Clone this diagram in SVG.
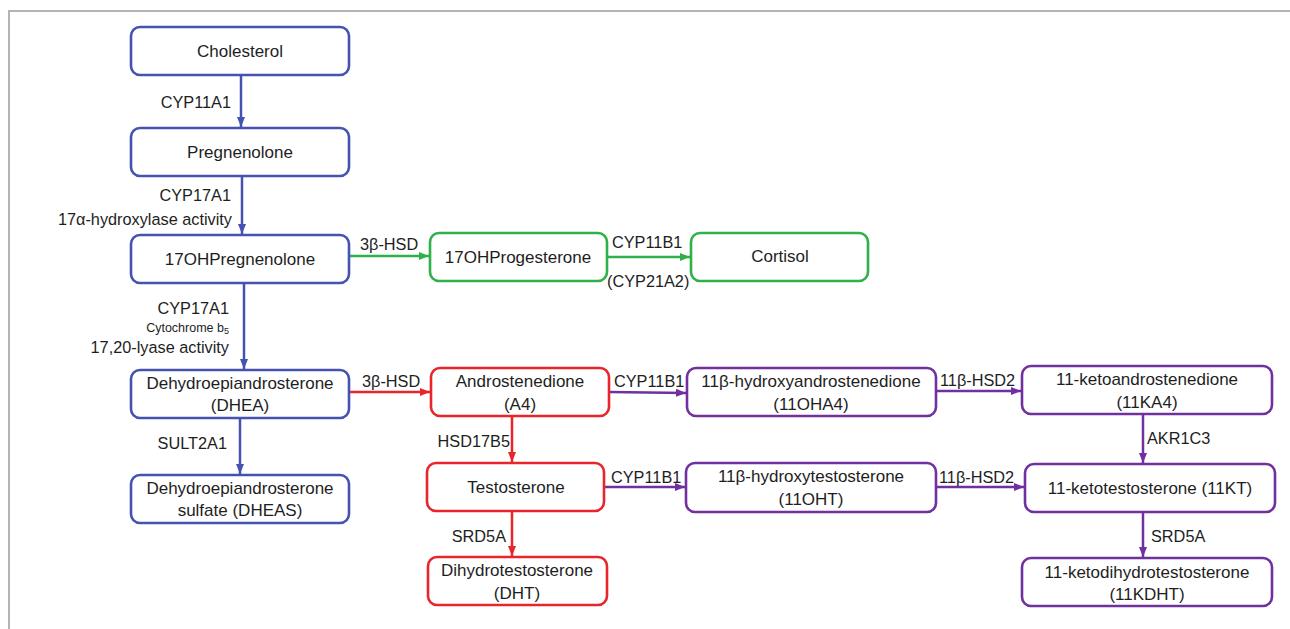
<svg xmlns="http://www.w3.org/2000/svg" width="1290" height="629" viewBox="0 0 1290 629">
<style>
text{font-family:"Liberation Sans",Arial,sans-serif;fill:#1e1e1e}
.n{font-size:17px;text-anchor:middle;dominant-baseline:central}
.l{font-size:16.3px;dominant-baseline:central}
.e{text-anchor:end}
.s{font-size:12.5px}
rect{fill:#fff;stroke-width:2.6}
.bl rect{stroke:#4452b0}.gr rect{stroke:#2fb04a}.rd rect{stroke:#e8252b}.pu rect{stroke:#7030a0}
.c{fill:none;stroke-width:2.5}
</style>
<defs>
<marker id="ab" markerUnits="userSpaceOnUse" markerWidth="10" markerHeight="10" viewBox="0 0 10 10" refX="10" refY="5" orient="auto"><path d="M0,1 L10,5 L0,9 z" fill="#4452b0"/></marker>
<marker id="ag" markerUnits="userSpaceOnUse" markerWidth="10" markerHeight="10" viewBox="0 0 10 10" refX="10" refY="5" orient="auto"><path d="M0,1 L10,5 L0,9 z" fill="#2fb04a"/></marker>
<marker id="ar" markerUnits="userSpaceOnUse" markerWidth="10" markerHeight="10" viewBox="0 0 10 10" refX="10" refY="5" orient="auto"><path d="M0,1 L10,5 L0,9 z" fill="#e8252b"/></marker>
<marker id="ap" markerUnits="userSpaceOnUse" markerWidth="10" markerHeight="10" viewBox="0 0 10 10" refX="10" refY="5" orient="auto"><path d="M0,1 L10,5 L0,9 z" fill="#7030a0"/></marker>
</defs>
<rect x="0" y="0" width="1290" height="629" style="fill:#fff;stroke:none"/>
<path d="M9,629 V11 H1290" fill="none" stroke="#b4b4b4" stroke-width="2"/>

<g id="connectors">
<path class="c" stroke="#4452b0" marker-end="url(#ab)" d="M241,75 V127"/>
<path class="c" stroke="#4452b0" marker-end="url(#ab)" d="M242,176 V234"/>
<path class="c" stroke="#4452b0" marker-end="url(#ab)" d="M244,283 V369"/>
<path class="c" stroke="#4452b0" marker-end="url(#ab)" d="M240,418 V474"/>
<path class="c" stroke="#2fb04a" marker-end="url(#ag)" d="M349,256 H429"/>
<path class="c" stroke="#2fb04a" marker-end="url(#ag)" d="M607,257 H690"/>
<path class="c" stroke="#e8252b" marker-end="url(#ar)" d="M349,392 H430"/>
<path class="c" stroke="#e8252b" marker-end="url(#ar)" d="M512,416 V462"/>
<path class="c" stroke="#e8252b" marker-end="url(#ar)" d="M512,511 V556"/>
<path class="c" stroke="#7030a0" marker-end="url(#ap)" d="M609,392 L686,393"/>
<path class="c" stroke="#7030a0" marker-end="url(#ap)" d="M936,391 H1021"/>
<path class="c" stroke="#7030a0" marker-end="url(#ap)" d="M1143,414 V463"/>
<path class="c" stroke="#7030a0" marker-end="url(#ap)" d="M604,487 H685"/>
<path class="c" stroke="#7030a0" marker-end="url(#ap)" d="M936,487 H1024"/>
<path class="c" stroke="#7030a0" marker-end="url(#ap)" d="M1143,512 V557"/>
<text class="l e" x="231" y="102">CYP11A1</text>
<text class="l e" x="231" y="195">CYP17A1</text>
<text class="l e" x="232" y="219">17α-hydroxylase activity</text>
<text class="l e" x="229" y="308">CYP17A1</text>
<text class="l e s" x="229" y="328">Cytochrome b<tspan font-size="9" dy="3">5</tspan></text>
<text class="l e" x="229" y="347">17,20-lyase activity</text>
<text class="l e" x="227" y="443">SULT2A1</text>
<text class="l" x="360" y="244">3β-HSD</text>
<text class="l" x="612" y="242">CYP11B1</text>
<text class="l" x="607" y="281">(CYP21A2)</text>
<text class="l" x="362" y="381">3β-HSD</text>
<text class="l" x="614" y="381">CYP11B1</text>
<text class="l" x="940" y="380">11β-HSD2</text>
<text class="l" x="1147" y="438">AKR1C3</text>
<text class="l e" x="510" y="441">HSD17B5</text>
<text class="l" x="611" y="477">CYP11B1</text>
<text class="l" x="939" y="477">11β-HSD2</text>
<text class="l e" x="506" y="536">SRD5A</text>
<text class="l" x="1151" y="536">SRD5A</text>
</g>

<g id="cholesterol" class="bl"><rect x="131" y="27" width="218" height="48" rx="9"/><text class="n" x="240" y="51">Cholesterol</text></g>
<g id="pregnenolone" class="bl"><rect x="131" y="128" width="218" height="48" rx="9"/><text class="n" x="240" y="152">Pregnenolone</text></g>
<g id="ohpreg" class="bl"><rect x="131" y="235" width="218" height="48" rx="9"/><text class="n" x="240" y="259">17OHPregnenolone</text></g>
<g id="dhea" class="bl"><rect x="131" y="370" width="218" height="48" rx="9"/><text class="n" x="240" y="383">Dehydroepiandrosterone</text><text class="n" x="240" y="405">(DHEA)</text></g>
<g id="dheas" class="bl"><rect x="131" y="475" width="218" height="48" rx="9"/><text class="n" x="240" y="488">Dehydroepiandrosterone</text><text class="n" x="240" y="510">sulfate (DHEAS)</text></g>
<g id="ohprog" class="gr"><rect x="430" y="233" width="177" height="48" rx="9"/><text class="n" x="518" y="257">17OHProgesterone</text></g>
<g id="cortisol" class="gr"><rect x="691" y="233" width="177" height="48" rx="9"/><text class="n" x="780" y="256">Cortisol</text></g>
<g id="a4" class="rd"><rect x="431" y="368" width="178" height="48" rx="9"/><text class="n" x="520" y="381">Androstenedione</text><text class="n" x="520" y="404">(A4)</text></g>
<g id="ohA4" class="pu"><rect x="687" y="368" width="249" height="48" rx="9"/><text class="n" x="811" y="381">11β-hydroxyandrostenedione</text><text class="n" x="811" y="404">(11OHA4)</text></g>
<g id="ka4" class="pu"><rect x="1022" y="366" width="250" height="48" rx="9"/><text class="n" x="1147" y="379">11-ketoandrostenedione</text><text class="n" x="1147" y="402">(11KA4)</text></g>
<g id="testosterone" class="rd"><rect x="427" y="463" width="177" height="48" rx="9"/><text class="n" x="516" y="487">Testosterone</text></g>
<g id="oht" class="pu"><rect x="686" y="463" width="250" height="49" rx="9"/><text class="n" x="811" y="476">11β-hydroxytestosterone</text><text class="n" x="811" y="499">(11OHT)</text></g>
<g id="kt" class="pu"><rect x="1025" y="464" width="250" height="48" rx="9"/><text class="n" x="1150" y="488">11-ketotestosterone (11KT)</text></g>
<g id="dht" class="rd"><rect x="428" y="557" width="179" height="48" rx="9"/><text class="n" x="517" y="570">Dihydrotestosterone</text><text class="n" x="517" y="593">(DHT)</text></g>
<g id="kdht" class="pu"><rect x="1022" y="558" width="250" height="48" rx="9"/><text class="n" x="1147" y="572">11-ketodihydrotestosterone</text><text class="n" x="1147" y="594">(11KDHT)</text></g>
</svg>
